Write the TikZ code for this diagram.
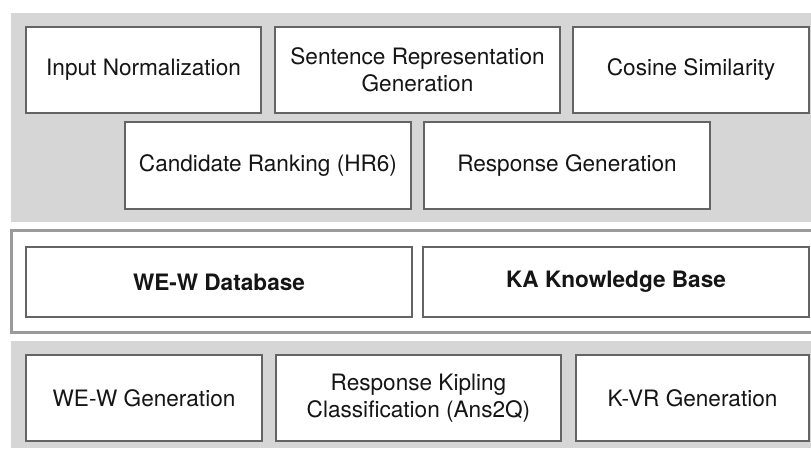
\documentclass[tikz,border=0pt]{standalone}
\usepackage{fontspec}
\setmainfont{TeX Gyre Heros}
\definecolor{panelgray}{HTML}{D6D6D6}
\definecolor{boxline}{HTML}{646464}
\definecolor{frameline}{HTML}{9A9A9A}
\definecolor{txt}{HTML}{151515}
\begin{document}
\begin{tikzpicture}[x=1pt,y=1pt,
  panel/.style={fill=panelgray,draw=none},
  module/.style={draw=boxline,line width=1.4pt,fill=white,rectangle,
    inner sep=0pt,outer sep=0pt,align=center,text=txt,
    font=\fontsize{22.6}{26.5}\selectfont},
  storebox/.style={module,font=\fontsize{22.6}{26.5}\selectfont\bfseries}]
\useasboundingbox (0,0) rectangle (811,449);
\clip (0,0) rectangle (811,449);
\fill[white] (0,0) rectangle (811,449);

% processing layer
\fill[panel] (11,{449-13}) rectangle (815,{449-222});
\node[module,minimum width=235,minimum height=86] (inorm) at (143.5,{449-70}) {Input Normalization};
\node[module,minimum width=285,minimum height=86] (sentrep) at (417.5,{449-70}) {Sentence Representation\\Generation};
\node[module,minimum width=236,minimum height=86] (cosine) at (691,{449-70}) {Cosine Similarity};
\node[module,minimum width=286,minimum height=87] (cand) at (268,{449-165.5}) {Candidate Ranking (HR6)};
\node[module,minimum width=286,minimum height=87] (respgen) at (567,{449-165.5}) {Response Generation};

% storage layer
\draw[draw=frameline,line width=3pt,fill=white] (11.5,{449-231}) rectangle (818,{449-332.5});
\node[storebox,minimum width=386,minimum height=70] (wedb) at (219,{449-282}) {WE-W Database};
\node[storebox,minimum width=386,minimum height=70] (kakb) at (616,{449-282}) {KA Knowledge Base};

% generation layer
\fill[panel] (11,{449-341}) rectangle (815,{449-448});
\node[module,minimum width=236,minimum height=86] (wegen) at (144,{449-398}) {WE-W Generation};
\node[module,minimum width=285,minimum height=86] (kipling) at (418.5,{449-398}) {Response Kipling\\Classification (Ans2Q)};
\node[module,minimum width=233,minimum height=86] (kvr) at (692.5,{449-398}) {K-VR Generation};
\end{tikzpicture}
\end{document}
